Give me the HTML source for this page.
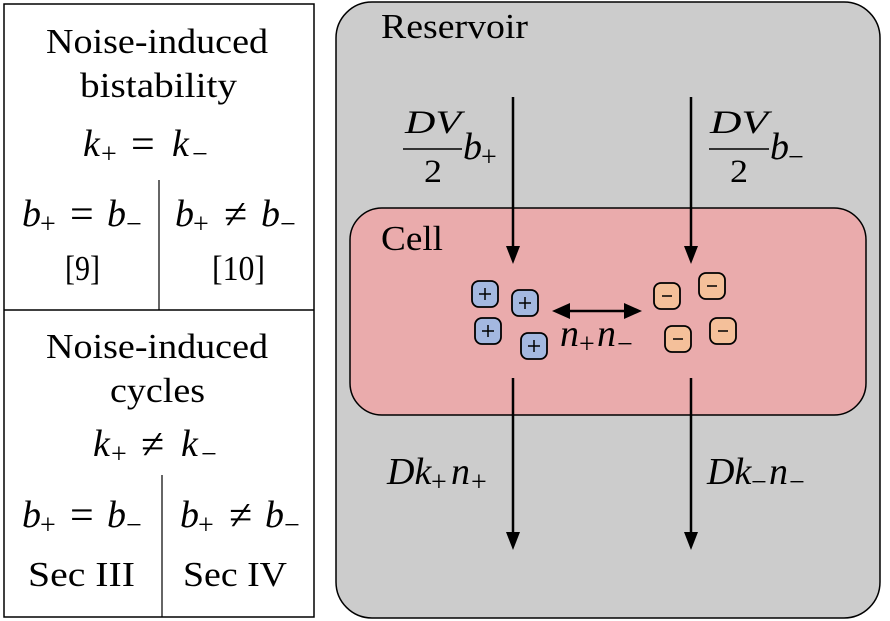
<!DOCTYPE html>
<html><head><meta charset="utf-8"><style>
html,body{margin:0;padding:0;background:#fff;}
svg{display:block;}
text{font-family:"Liberation Serif",serif;fill:#000;}
.i{font-style:italic;font-size:38px;}
.s{font-size:28px;}
.o{font-size:42px;}
</style></head><body>
<svg width="890" height="621" viewBox="0 0 890 621" xmlns="http://www.w3.org/2000/svg">
<rect x="4" y="4" width="310" height="613" fill="#fff" stroke="#000" stroke-width="1.5"/>
<line x1="4" y1="310" x2="314" y2="310" stroke="#000" stroke-width="1.5"/>
<line x1="159" y1="180" x2="159" y2="310" stroke="#000" stroke-width="1.2"/>
<line x1="162" y1="475" x2="162" y2="617" stroke="#000" stroke-width="1.2"/>
<g font-size="35">
<text x="46" y="53" textLength="222" lengthAdjust="spacingAndGlyphs">Noise-induced</text>
<text x="80" y="97" textLength="157" lengthAdjust="spacingAndGlyphs">bistability</text>
<text x="83" y="156" class="i">k</text><text x="101" y="163" class="s">+</text><text x="131" y="158" class="o">=</text><text x="172" y="156" class="i">k</text><text x="192" y="163" class="s">−</text>
<text x="22" y="226" class="i">b</text><text x="40" y="233" class="s">+</text><text x="70" y="228" class="o">=</text><text x="107" y="226" class="i">b</text><text x="126" y="233" class="s">−</text>
<text x="65" y="280" textLength="35" lengthAdjust="spacingAndGlyphs">[9]</text>
<text x="175" y="226" class="i">b</text><text x="193" y="233" class="s">+</text><text x="224" y="228" class="o">≠</text><text x="261" y="226" class="i">b</text><text x="280" y="233" class="s">−</text>
<text x="212" y="280" textLength="53" lengthAdjust="spacingAndGlyphs">[10]</text>
<text x="46" y="358" textLength="222" lengthAdjust="spacingAndGlyphs">Noise-induced</text>
<text x="110" y="402" textLength="95" lengthAdjust="spacingAndGlyphs">cycles</text>
<text x="93" y="456" class="i">k</text><text x="111" y="463" class="s">+</text><text x="141" y="458" class="o">≠</text><text x="181" y="456" class="i">k</text><text x="201" y="463" class="s">−</text>
<text x="22" y="527" class="i">b</text><text x="40" y="534" class="s">+</text><text x="70" y="529" class="o">=</text><text x="107" y="527" class="i">b</text><text x="126" y="534" class="s">−</text>
<text x="180" y="527" class="i">b</text><text x="198" y="534" class="s">+</text><text x="229" y="529" class="o">≠</text><text x="265" y="527" class="i">b</text><text x="284" y="534" class="s">−</text>
<text x="28" y="586" textLength="107" lengthAdjust="spacingAndGlyphs">Sec III</text>
<text x="183" y="586" textLength="104" lengthAdjust="spacingAndGlyphs">Sec IV</text>
</g>
<rect x="336" y="2" width="544" height="616" rx="36" fill="#cccccc" stroke="#000" stroke-width="1.5"/>
<text x="381" y="38" font-size="35" textLength="147" lengthAdjust="spacingAndGlyphs">Reservoir</text>
<rect x="350" y="208" width="516" height="207" rx="32" fill="#eaabac" stroke="#000" stroke-width="1.5"/>
<text x="381" y="250" font-size="35" textLength="62" lengthAdjust="spacingAndGlyphs">Cell</text>
<g stroke="#000" stroke-width="2.5" fill="none">
<line x1="513" y1="97" x2="513" y2="250"/>
<line x1="691" y1="97" x2="691" y2="250"/>
<line x1="513" y1="378" x2="513" y2="538"/>
<line x1="691" y1="378" x2="691" y2="538"/>
<line x1="566" y1="311" x2="630" y2="311"/>
</g>
<g fill="#000">
<path d="M506,246 L513,264 L520,246 Z"/>
<path d="M684,246 L691,264 L698,246 Z"/>
<path d="M506,532 L513,550 L520,532 Z"/>
<path d="M684,532 L691,550 L698,532 Z"/>
<path d="M552,311 L570,303 L570,319 Z"/>
<path d="M642,311 L624,303 L624,319 Z"/>
</g>
<g font-size="33">
<text x="405" y="133" font-style="italic" textLength="56" lengthAdjust="spacingAndGlyphs">DV</text>
<line x1="403" y1="149" x2="462" y2="149" stroke="#000" stroke-width="1.5"/>
<text x="424" y="182" textLength="18" lengthAdjust="spacingAndGlyphs">2</text>
<text x="463" y="159" class="i">b</text><text x="481" y="166" class="s">+</text>
<text x="710" y="133" font-style="italic" textLength="58" lengthAdjust="spacingAndGlyphs">DV</text>
<line x1="709" y1="149" x2="769" y2="149" stroke="#000" stroke-width="1.5"/>
<text x="730" y="182" textLength="18" lengthAdjust="spacingAndGlyphs">2</text>
<text x="770" y="159" class="i">b</text><text x="788" y="166" class="s">−</text>
<text x="560" y="346" class="i">n</text><text x="579" y="353" class="s">+</text><text x="597" y="346" class="i">n</text><text x="617" y="353" class="s">−</text>
<text x="387" y="484" class="i">Dk</text><text x="431" y="491" class="s">+</text><text x="451" y="484" class="i">n</text><text x="471" y="491" class="s">+</text>
<text x="707" y="484" class="i">Dk</text><text x="751" y="491" class="s">−</text><text x="769" y="484" class="i">n</text><text x="789" y="491" class="s">−</text>
</g>
<g stroke="#000" stroke-width="1.8">
<rect x="472" y="281" width="26" height="26" rx="7" fill="#a4b8e0"/>
<rect x="512" y="290" width="26" height="26" rx="7" fill="#a4b8e0"/>
<rect x="475" y="318" width="26" height="26" rx="7" fill="#a4b8e0"/>
<rect x="521" y="333" width="26" height="26" rx="7" fill="#a4b8e0"/>
<rect x="654" y="283" width="26" height="26" rx="7" fill="#f4c09a"/>
<rect x="699" y="273" width="26" height="26" rx="7" fill="#f4c09a"/>
<rect x="665" y="326" width="26" height="26" rx="7" fill="#f4c09a"/>
<rect x="710" y="318" width="26" height="26" rx="7" fill="#f4c09a"/>
</g>
<g stroke="#000" stroke-width="1.5">
<path d="M479,294 h12 M485,288 v12"/>
<path d="M519,303 h12 M525,297 v12"/>
<path d="M482,331 h12 M488,325 v12"/>
<path d="M528,346 h12 M534,340 v12"/>
<path d="M662,296 h10"/>
<path d="M707,286 h10"/>
<path d="M673,339 h10"/>
<path d="M718,331 h10"/>
</g>
</svg>
</body></html>
